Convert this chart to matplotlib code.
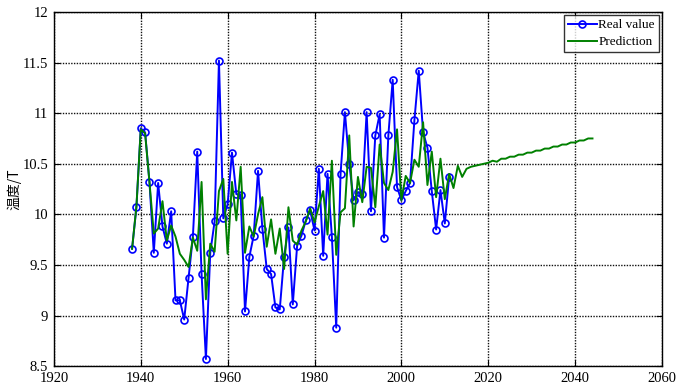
import matplotlib
matplotlib.use("Agg")
import matplotlib.pyplot as plt
import numpy as np

real_years = list(range(1938, 2012))
real_values = [
    9.66, 10.07, 10.85, 10.81, 10.32, 9.62, 10.31, 9.88, 9.71, 10.03,
    9.15, 9.15, 8.96, 9.37, 9.78, 10.62, 9.41, 8.57, 9.62, 9.93,
    11.52, 9.96, 10.10, 10.61, 10.20, 10.19, 9.04, 9.58, 9.79, 10.43,
    9.86, 9.46, 9.41, 9.08, 9.06, 9.58, 9.87, 9.11, 9.69, 9.79,
    9.94, 10.04, 9.84, 10.45, 9.59, 10.40, 9.78, 8.88, 10.40, 11.01,
    10.50, 10.14, 10.22, 10.20, 11.01, 10.03, 10.78, 10.99, 9.77, 10.78,
    11.33, 10.27, 10.14, 10.23, 10.31, 10.93, 11.42, 10.81, 10.66, 10.23,
    9.85, 10.24, 9.91, 10.37,
]

pred_years = list(range(1938, 2045))
pred_values = [
    9.66, 10.08, 10.84, 10.80, 10.32, 9.81, 9.86, 10.13, 9.74, 9.89,
    9.78, 9.61, 9.55, 9.48, 9.77, 9.64, 10.32, 9.16, 9.71, 9.63,
    10.23, 10.35, 9.61, 10.32, 9.94, 10.47, 9.62, 9.88, 9.78, 10.00,
    10.17, 9.68, 9.95, 9.61, 9.86, 9.46, 10.07, 9.74, 9.70, 9.84,
    9.93, 10.06, 9.92, 10.08, 10.23, 9.80, 10.53, 9.60, 10.02, 10.06,
    10.78, 9.88, 10.37, 10.12, 10.47, 10.46, 10.07, 10.69, 10.31, 10.24,
    10.42, 10.84, 10.14, 10.38, 10.31, 10.54, 10.47, 10.91, 10.29, 10.62,
    10.17, 10.55, 10.15, 10.40, 10.26, 10.48, 10.37, 10.45, 10.47, 10.48,
    10.49, 10.50, 10.51, 10.53, 10.52, 10.55, 10.55, 10.57, 10.57, 10.59,
    10.59, 10.61, 10.61, 10.63, 10.63, 10.65, 10.65, 10.67, 10.67, 10.69,
    10.69, 10.71, 10.71, 10.73, 10.73, 10.75, 10.75,
]

x_ticks = [1920, 1940, 1960, 1980, 2000, 2020, 2040, 2060]
y_ticks = [8.5, 9, 9.5, 10, 10.5, 11, 11.5, 12]
y_label = "温度/T"
legend_labels = ["Real value", "Prediction"]

plt.rcParams['font.family'] = ['Liberation Serif', 'Noto Sans CJK SC', 'DejaVu Sans']

fig = plt.figure(figsize=(6.91, 3.87), dpi=100)
ax = fig.add_axes([0.078, 0.054, 0.880, 0.915])

ax.plot(real_years, real_values, color='#0000ff', linewidth=1.4, marker='o',
        markersize=5, markerfacecolor='none', markeredgecolor='#0000ff',
        markeredgewidth=1.2, label=legend_labels[0])
ax.plot(pred_years[:len(pred_values)], pred_values, color='#008000', linewidth=1.4,
        label=legend_labels[1])

ax.set_xlim(1920, 2060)
ax.set_ylim(8.5, 12)
ax.set_xticks(x_ticks)
ax.set_yticks(y_ticks)
ax.set_yticklabels([("%g" % v) for v in y_ticks])
ax.tick_params(direction='in', labelsize=10.5, length=4, top=True, right=True,
               colors='black', pad=4)
ax.grid(True, color='#111111', linestyle=(0, (1, 1)), linewidth=1.0)
for sp in ax.spines.values():
    sp.set_linewidth(1.0)
    sp.set_color('black')

ax.set_ylabel(y_label, fontsize=10, family=['Noto Sans CJK SC', 'DejaVu Sans'], labelpad=1)

leg = ax.legend(loc='upper right', fontsize=9.5, frameon=True, fancybox=False,
                edgecolor='black', handlelength=2.2, handletextpad=0.1,
                borderpad=0.3, labelspacing=0.35, borderaxespad=0.25)
leg.get_frame().set_linewidth(1.0)

fig.savefig("out.png", dpi=100)
